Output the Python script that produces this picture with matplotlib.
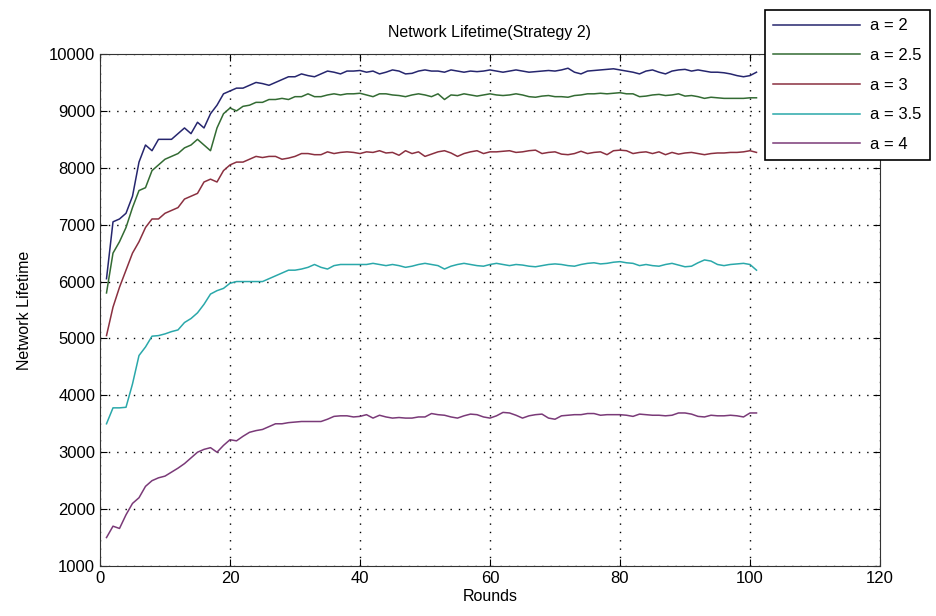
import matplotlib
matplotlib.use("Agg")
import matplotlib.pyplot as plt
import numpy as np

rounds = list(range(1, 102))

a2 = [6050, 7050, 7100, 7200, 7500, 8100, 8400, 8300, 8500, 8500, 8500, 8600, 8700, 8600, 8800, 8700, 8950, 9100, 9300, 9350,
      9400, 9400, 9450, 9500, 9480, 9450, 9500, 9550, 9600, 9600, 9650, 9620, 9600, 9650, 9700, 9680, 9650, 9700, 9700, 9710,
      9680, 9700, 9650, 9680, 9720, 9700, 9650, 9660, 9700, 9720, 9700, 9700, 9680, 9720, 9700, 9680, 9700, 9690, 9700, 9720,
      9700, 9680, 9700, 9720, 9700, 9680, 9690, 9700, 9710, 9700, 9720, 9750, 9680, 9650, 9700, 9710, 9720, 9730, 9740, 9720,
      9700, 9680, 9650, 9700, 9720, 9680, 9650, 9700, 9720, 9730, 9700, 9720, 9700, 9680, 9680, 9670, 9650, 9620, 9600, 9620, 9680]

a25 = [5800, 6500, 6700, 6950, 7300, 7600, 7650, 7950, 8050, 8150, 8200, 8250, 8350, 8400, 8500, 8400, 8300, 8700, 8950, 9050,
       9000, 9080, 9100, 9150, 9150, 9200, 9200, 9220, 9200, 9250, 9250, 9300, 9250, 9250, 9280, 9300, 9280, 9300, 9300, 9310,
       9280, 9250, 9300, 9300, 9280, 9270, 9250, 9280, 9300, 9280, 9250, 9300, 9200, 9280, 9270, 9300, 9280, 9260, 9280, 9300,
       9280, 9270, 9280, 9300, 9280, 9250, 9240, 9260, 9270, 9250, 9250, 9240, 9270, 9280, 9300, 9300, 9310, 9300, 9310, 9320,
       9300, 9300, 9250, 9260, 9280, 9290, 9270, 9280, 9300, 9260, 9270, 9250, 9220, 9240, 9230, 9220, 9220, 9220, 9220, 9230, 9230]

a3 = [5050, 5550, 5900, 6200, 6500, 6700, 6950, 7100, 7100, 7200, 7250, 7300, 7450, 7500, 7550, 7750, 7800, 7750, 7950, 8050,
      8100, 8100, 8150, 8200, 8180, 8200, 8200, 8150, 8170, 8200, 8250, 8250, 8230, 8230, 8280, 8250, 8270, 8280, 8270, 8250,
      8280, 8270, 8300, 8260, 8270, 8220, 8300, 8250, 8280, 8200, 8240, 8280, 8300, 8260, 8200, 8250, 8280, 8300, 8250, 8280,
      8280, 8290, 8300, 8270, 8280, 8300, 8310, 8250, 8270, 8280, 8240, 8230, 8250, 8290, 8250, 8270, 8280, 8230, 8300, 8310,
      8300, 8250, 8270, 8280, 8250, 8280, 8230, 8270, 8240, 8260, 8270, 8250, 8230, 8250, 8260, 8260, 8270, 8270, 8280, 8300, 8270]

a35 = [3500, 3780, 3780, 3790, 4200, 4700, 4850, 5040, 5050, 5080, 5120, 5150, 5280, 5350, 5450, 5600, 5780, 5840, 5880, 5970,
       6000, 6000, 6000, 6000, 6000, 6050, 6100, 6150, 6200, 6200, 6220, 6250, 6300, 6250, 6220, 6280, 6300, 6300, 6300, 6300,
       6300, 6320, 6300, 6280, 6300, 6280, 6250, 6270, 6300, 6320, 6300, 6280, 6220, 6270, 6300, 6320, 6300, 6280, 6270, 6300,
       6320, 6300, 6280, 6300, 6290, 6270, 6260, 6280, 6300, 6310, 6300, 6280, 6270, 6300, 6320, 6330, 6310, 6320, 6340, 6350,
       6330, 6320, 6280, 6300, 6280, 6270, 6300, 6320, 6290, 6260, 6270, 6330, 6380, 6360, 6300, 6280, 6300, 6310, 6320, 6300, 6200]

a4 = [1500, 1700, 1660, 1900, 2100, 2200, 2400, 2500, 2550, 2580, 2650, 2720, 2800, 2900, 3000, 3050, 3080, 3000, 3120, 3220,
      3200, 3280, 3350, 3380, 3400, 3450, 3500, 3500, 3520, 3530, 3540, 3540, 3540, 3540, 3580, 3630, 3640, 3640, 3620, 3630,
      3660, 3600, 3650, 3620, 3600, 3610, 3600, 3600, 3620, 3620, 3680, 3660, 3650, 3620, 3600, 3640, 3670, 3660, 3620, 3600,
      3640, 3700, 3690, 3650, 3600, 3640, 3660, 3670, 3600, 3580, 3640, 3650, 3660, 3660, 3680, 3680, 3650, 3660, 3660, 3660,
      3650, 3630, 3670, 3660, 3650, 3650, 3640, 3650, 3690, 3690, 3670, 3630, 3620, 3650, 3640, 3640, 3650, 3640, 3620, 3690, 3690]

labels = ["a = 2", "a = 2.5", "a = 3", "a = 3.5", "a = 4"]
colors = ["#26266e", "#336b33", "#8a3040", "#2aa8aa", "#7a3a78"]
series = [a2, a25, a3, a35, a4]

plt.rcParams["font.family"] = ["Liberation Sans", "DejaVu Sans"]

W, H = 937, 616
fig = plt.figure(figsize=(W / 100, H / 100), dpi=100)
ax = fig.add_axes([100 / W, (H - 566) / H, (880 - 100) / W, (566 - 54) / H])

for s, c, l in zip(series, colors, labels):
    ax.plot(rounds, s, color=c, lw=1.1, label=l)

ax.set_xlim(0, 120)
ax.set_ylim(1000, 10000)
ax.set_xticks(range(0, 121, 20))
ax.set_yticks(range(1000, 10001, 1000))
ax.grid(True, color="black", linestyle=(0, (1, 5)), linewidth=1.0)
ax.tick_params(direction="in", top=True, right=True, labelsize=12, length=5)
for sp in ax.spines.values():
    sp.set_color("#333333")
ax.set_title("Network Lifetime(Strategy 2)", fontsize=11.5, pad=12)
ax.set_xlabel("Rounds", fontsize=11.5, labelpad=2)
ax.set_ylabel("Network Lifetime", fontsize=11.5, labelpad=12)

leg = fig.legend(loc="upper left", bbox_to_anchor=(765 / W, 1 - 10 / H), fontsize=12,
                 handlelength=5.2, fancybox=False, edgecolor="black", framealpha=1,
                 borderpad=0.5, labelspacing=0.88, borderaxespad=0, handletextpad=0.6)
leg.get_frame().set_linewidth(1.2)

fig.savefig("out.png", dpi=100)
